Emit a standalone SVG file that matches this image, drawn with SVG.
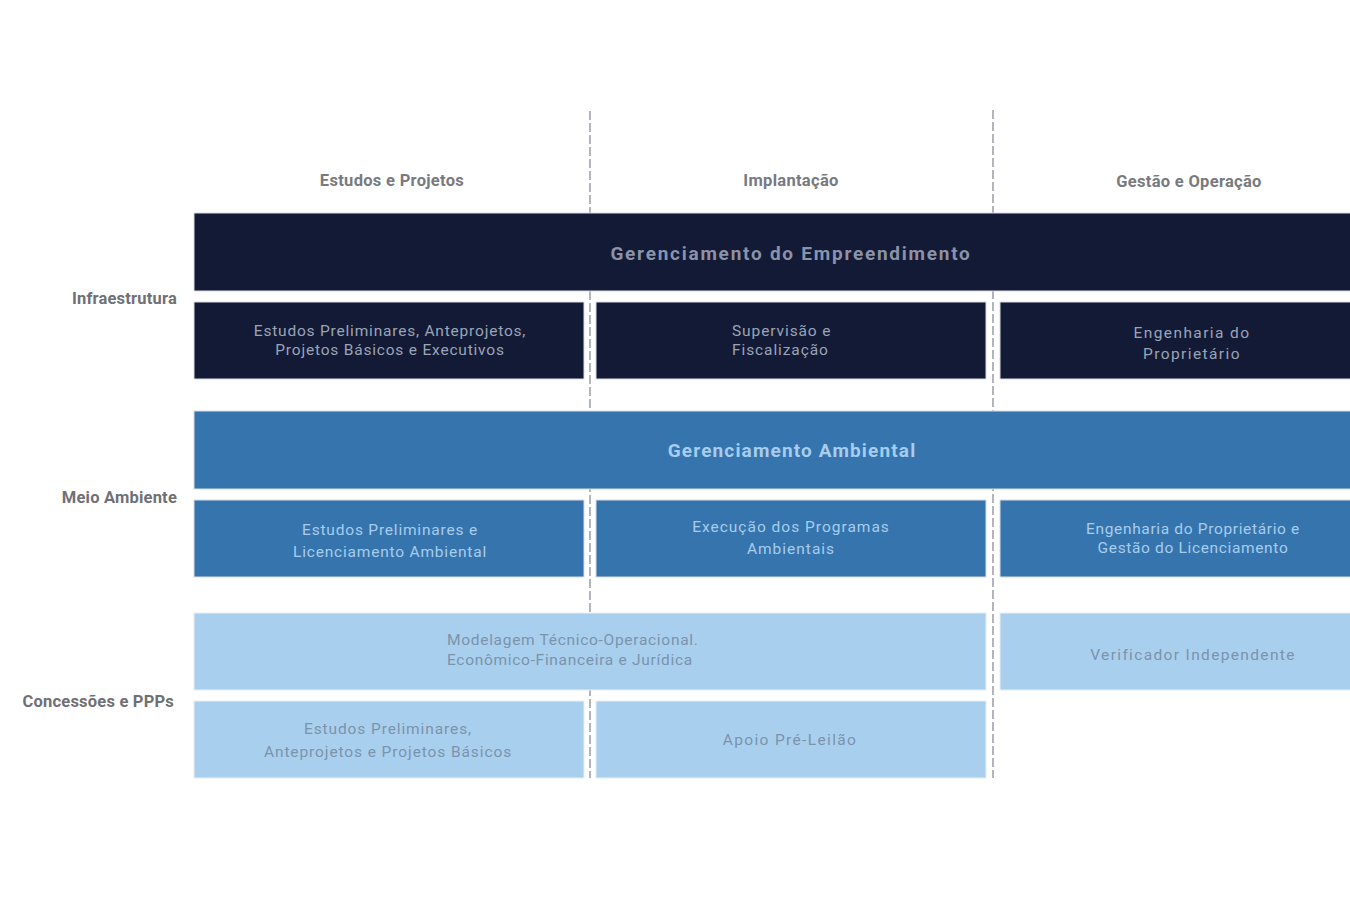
<svg xmlns="http://www.w3.org/2000/svg" width="1350" height="920" viewBox="0 0 1350 920">
<style>
text{font-family:Roboto,"Liberation Sans",sans-serif;text-anchor:middle}
.hd{font-size:16.5px;font-weight:700;fill:#777a80;letter-spacing:0.3px}
.rl{font-size:16.5px;font-weight:700;fill:#6f7075;text-anchor:end;letter-spacing:0.2px}
.dk{fill:#131a35;stroke:#d8dce3;stroke-width:1}
.md{fill:#3674ad;stroke:#d8dce3;stroke-width:1}
.lt{fill:#a9cfee;stroke:#e8eef4;stroke-width:1}
.tdk{font-size:15.5px;fill:#9ba4b8;letter-spacing:0.8px}
.tmd{font-size:15.5px;fill:#a6cdee;letter-spacing:0.8px}
.tlt{font-size:15.5px;fill:#7b93ab;letter-spacing:0.9px}
.big{font-size:19px;font-weight:700;letter-spacing:1.75px}
.dash{stroke:#b2b5bd;stroke-width:2;stroke-dasharray:9 3;fill:none}
</style>
<rect width="1350" height="920" fill="#ffffff"/>
<g id="connectors">
<line class="dash" x1="590" y1="111" x2="590" y2="778"/>
<line class="dash" x1="993" y1="110" x2="993" y2="778"/>
</g>
<g id="headers">
<text class="hd" x="392" y="186">Estudos e Projetos</text>
<text class="hd" x="791" y="186">Implantação</text>
<text class="hd" x="1189" y="187">Gestão e Operação</text>
</g>
<g id="rowlabels">
<text class="rl" x="177" y="304">Infraestrutura</text>
<text class="rl" x="177" y="503">Meio Ambiente</text>
<text class="rl" x="174" y="707">Concessões e PPPs</text>
</g>
<g id="gerenciamento-empreendimento">
<rect class="dk" x="194" y="213" width="1157" height="78"/>
<text class="big" x="791" y="260" fill="#8a93a9">Gerenciamento do Empreendimento</text>
</g>
<g id="infra-estudos">
<rect class="dk" x="194" y="302" width="390" height="77"/>
<text class="tdk" x="390" y="336">Estudos Preliminares, Anteprojetos,</text>
<text class="tdk" x="390" y="355">Projetos Básicos e Executivos</text>
</g>
<g id="infra-supervisao">
<rect class="dk" x="596" y="302" width="390" height="77"/>
<text class="tdk" x="732" y="336" style="text-anchor:start;letter-spacing:0.9px">Supervisão e</text>
<text class="tdk" x="732" y="355" style="text-anchor:start;letter-spacing:0.9px">Fiscalização</text>
</g>
<g id="infra-engenharia">
<rect class="dk" x="1000" y="302" width="351" height="77"/>
<text class="tdk" x="1192" y="338" style="letter-spacing:1.4px">Engenharia do</text>
<text class="tdk" x="1192" y="359" style="letter-spacing:1.4px">Proprietário</text>
</g>
<g id="gerenciamento-ambiental">
<rect class="md" x="194" y="411" width="1157" height="78"/>
<text class="big" x="792" y="457" fill="#a6cdee" style="letter-spacing:1.15px">Gerenciamento Ambiental</text>
</g>
<g id="amb-estudos">
<rect class="md" x="194" y="500" width="390" height="77"/>
<text class="tmd" x="390" y="535">Estudos Preliminares e</text>
<text class="tmd" x="390" y="557">Licenciamento Ambiental</text>
</g>
<g id="amb-execucao">
<rect class="md" x="596" y="500" width="390" height="77"/>
<text class="tmd" x="791" y="532" style="letter-spacing:1px">Execução dos Programas</text>
<text class="tmd" x="791" y="554" style="letter-spacing:1px">Ambientais</text>
</g>
<g id="amb-engenharia">
<rect class="md" x="1000" y="500" width="351" height="77"/>
<text class="tmd" x="1193" y="534" style="letter-spacing:0.65px">Engenharia do Proprietário e</text>
<text class="tmd" x="1193" y="553" style="letter-spacing:0.65px">Gestão do Licenciamento</text>
</g>
<g id="conc-modelagem">
<rect class="lt" x="194" y="613" width="792" height="77"/>
<text class="tlt" x="447" y="645" style="text-anchor:start;letter-spacing:0.7px">Modelagem Técnico-Operacional.</text>
<text class="tlt" x="447" y="665" style="text-anchor:start;letter-spacing:0.7px">Econômico-Financeira e Jurídica</text>
</g>
<g id="conc-verificador">
<rect class="lt" x="1000" y="613" width="351" height="77"/>
<text class="tlt" x="1193" y="660" style="letter-spacing:1.35px">Verificador Independente</text>
</g>
<g id="conc-estudos">
<rect class="lt" x="194" y="701" width="390" height="77"/>
<text class="tlt" x="388" y="734">Estudos Preliminares,</text>
<text class="tlt" x="388" y="757">Anteprojetos e Projetos Básicos</text>
</g>
<g id="conc-apoio">
<rect class="lt" x="596" y="701" width="390" height="77"/>
<text class="tlt" x="790" y="745" style="letter-spacing:1.35px">Apoio Pré-Leilão</text>
</g>
</svg>
